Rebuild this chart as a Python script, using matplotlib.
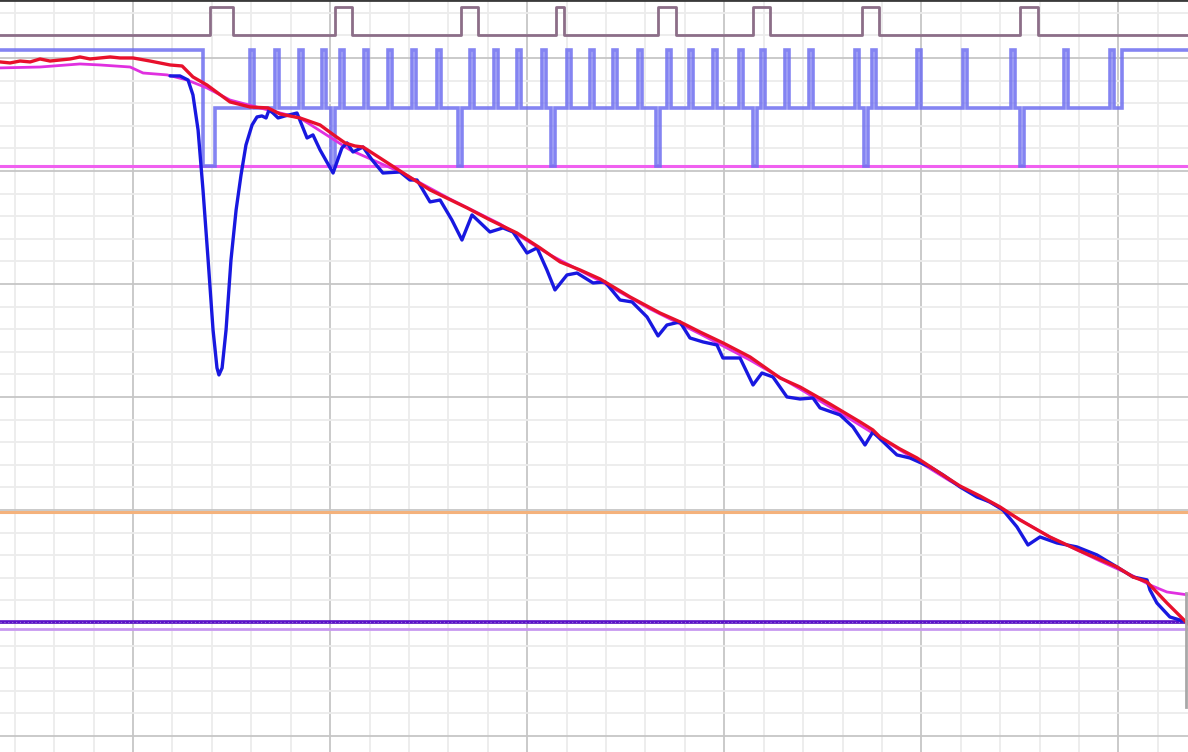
import numpy as np
import matplotlib
matplotlib.use("Agg")
import matplotlib.pyplot as plt

# time axis in ms, values in V
X_LIM = (-67.5, 535.3)
Y_LIM = (-0.142, 6.513)

# digital trace 1 (mauve): pulses as (start, end)
pulse_starts = [39.1, 102.5, 166.4, 214.6, 266.4, 314.6, 369.9, 450.0]
pulse_ends = [50.7, 111.1, 175.0, 218.7, 275.5, 323.2, 378.5, 459.2]
mauve_low, mauve_high = 6.20, 6.45

# digital trace 2 (light blue): three levels with spikes
blue_high, blue_mid, blue_low = 6.07, 5.56, 5.04
blue_fall = 35.5       # high -> low
blue_settle = 41.6     # low -> mid
blue_rise_end = 501.8  # mid -> high, stays
up_spikes = [59.4, 72.0, 84.2, 95.9, 105.0, 117.2, 129.4, 141.6, 154.2, 171.0,
             183.2, 194.8, 207.5, 220.2, 231.9, 243.5, 256.2, 270.9, 282.1, 294.3,
             307.5, 318.6, 330.8, 343.0, 366.3, 374.9, 397.8, 421.1, 445.5, 472.4,
             495.7]
down_spikes = [100.5, 164.9, 212.1, 265.3, 314.6, 370.9, 450.0]
spike_w = 2.0

# constant reference levels
magenta_level = 5.04
orange_level = 1.98
purple_level = 1.01
lilac_level = 0.95

# analog traces
red_t = [-67.5, -62.4, -57.3, -52.2, -47.2, -42.1, -37.0, -31.9, -26.9, -21.8, -16.7,
         -11.6, -6.6, 0.0, 8.6, 18.8, 24.9, 30.4,
         37.5, 49.2, 59.4, 68.5, 74.6, 84.7, 94.9, 102.5, 107.6, 112.6, 116.7, 125.3,
         135.5, 150.7, 169.5, 181.2, 194.8, 206.5, 216.7, 226.8, 237.0, 252.2, 267.4,
         277.6, 287.7, 299.4, 313.1, 328.3, 338.5, 353.6, 368.9, 375.4, 379.0, 389.1,
         397.8, 409.4, 419.6, 429.7, 439.9, 450.0, 465.2, 480.5, 499.2, 507.4, 514.5,
         524.6, 535.3]
red_v = [5.965, 5.956, 5.973, 5.965, 5.991, 5.973, 5.982, 5.991, 6.009, 5.991, 6.000,
         6.009, 6.000, 6.000, 5.973, 5.938, 5.929,
         5.832, 5.761, 5.611, 5.566, 5.558, 5.504, 5.469, 5.407, 5.310, 5.248, 5.221,
         5.212, 5.115, 5.000, 4.832, 4.673, 4.566, 4.451, 4.319, 4.195, 4.124, 4.044,
         3.885, 3.743, 3.664, 3.575, 3.478, 3.354, 3.168, 3.088, 2.938, 2.779, 2.708,
         2.646, 2.540, 2.460, 2.327, 2.212, 2.124, 2.027, 1.912, 1.761, 1.637, 1.496,
         1.407, 1.363, 1.177, 0.991]

pink_t = [-67.5, -47.2, -26.9, -16.7, -1.5, 5.1, 17.3, 27.4, 37.5, 49.2, 64.4, 84.7,
          110.1, 135.5, 160.8, 186.2, 211.6, 236.9, 262.3, 287.7, 313.0, 338.4, 363.8,
          389.1, 414.5, 439.9, 465.2, 490.6, 507.4, 516.0, 524.6, 535.3]
pink_v = [5.912, 5.920, 5.947, 5.938, 5.920, 5.867, 5.850, 5.805, 5.735, 5.628, 5.558,
          5.469, 5.186, 4.991, 4.752, 4.531, 4.257, 4.027, 3.779, 3.558, 3.327, 3.071,
          2.805, 2.531, 2.257, 2.018, 1.761, 1.549, 1.416, 1.336, 1.274, 1.248]

blue_t = [18.8, 23.8, 27.9, 30.4, 33.0, 35.5, 38.1, 40.6, 42.6, 43.6, 45.2, 47.2, 49.7,
          52.3, 54.8, 57.3, 60.4, 62.9, 65.4, 67.5, 69.0, 71.0, 73.6, 77.1, 83.2, 88.3,
          91.3, 94.9, 101.5, 106.0, 108.6, 111.6, 116.7, 121.3, 126.8, 135.5, 140.5,
          144.1, 150.7, 155.8, 161.8, 166.9, 172.0, 181.1, 187.7, 192.8, 199.9, 205.0,
          210.0, 214.1, 220.2, 225.3, 233.4, 239.5, 247.1, 253.2, 260.8, 266.4, 270.9,
          277.5, 282.6, 289.2, 296.3, 299.3, 308.0, 314.6, 319.1, 324.7, 331.8, 338.4,
          345.0, 348.6, 358.7, 365.3, 371.4, 375.4, 387.6, 394.2, 404.4, 411.0, 419.6,
          428.2, 434.8, 441.4, 448.5, 454.1, 460.2, 468.8, 478.9, 489.1, 499.2, 507.4,
          514.5, 516.0, 519.5, 526.1, 532.7, 535.3]
blue_v = [5.841, 5.841, 5.805, 5.673, 5.363, 4.832, 4.212, 3.593, 3.257, 3.195, 3.257,
          3.593, 4.212, 4.655, 4.965, 5.230, 5.407, 5.478, 5.487, 5.469, 5.540, 5.513,
          5.469, 5.487, 5.513, 5.292, 5.319, 5.186, 4.982, 5.204, 5.248, 5.168, 5.212,
          5.097, 4.982, 4.991, 4.920, 4.920, 4.726, 4.743, 4.566, 4.389, 4.611, 4.460,
          4.496, 4.460, 4.274, 4.319, 4.124, 3.947, 4.080, 4.097, 4.009, 4.018, 3.858,
          3.841, 3.708, 3.540, 3.637, 3.664, 3.522, 3.487, 3.460, 3.345, 3.345, 3.106,
          3.212, 3.177, 3.000, 2.982, 2.991, 2.903, 2.841, 2.735, 2.575, 2.690, 2.487,
          2.460, 2.381, 2.310, 2.204, 2.115, 2.071, 2.000, 1.850, 1.690, 1.761, 1.708,
          1.673, 1.602, 1.496, 1.407, 1.381, 1.292, 1.177, 1.053, 1.018, 1.010]

# cursor marker at the right edge
cursor_t = 534.2
cursor_v = (0.257, 1.265)


def step_trace(base, t0, t1, events):
    # events: list of (start, end, level) on top of a base level
    xs, ys = [t0], [base]
    for s, e, lvl in sorted(events):
        xs += [s, s, e, e]
        ys += [base, lvl, lvl, base]
    xs.append(t1)
    ys.append(base)
    return xs, ys


fig = plt.figure(figsize=(11.88, 7.52), dpi=100)
ax = fig.add_axes([0, 0, 1, 1])
ax.set_xlim(*X_LIM)
ax.set_ylim(*Y_LIM)

# grid
ax.set_xticks(np.arange(-60, 536, 20), minor=True)
ax.set_xticks(np.arange(0, 536, 100))
ax.set_yticks(np.arange(0, 6.6, 0.2), minor=True)
ax.set_yticks(np.arange(0, 6.6, 1.0))
ax.grid(which="minor", color="#ececec", lw=1.3)
ax.grid(which="major", color="#c6c6c6", lw=1.3)
ax.tick_params(which="both", length=0, labelbottom=False, labelleft=False)
for side in ["left", "right", "bottom"]:
    ax.spines[side].set_visible(False)
ax.spines["top"].set_color("#3a3a3a")
ax.spines["top"].set_linewidth(2)
ax.set_axisbelow(True)

# reference levels
ax.axhline(magenta_level, color="#f060f0", lw=2.2, zorder=2)
ax.axhline(orange_level, color="#f4b27c", lw=2.2, zorder=2)
ax.axhline(lilac_level, color="#c898f0", lw=2.0, zorder=2)
ax.axhline(purple_level, color="#5a10c8", lw=2.6, zorder=2)
ax.axhline(purple_level, color="#9a70e0", lw=0.8, ls=(0, (1, 2.5)), zorder=2)

# mauve digital
mx, my = step_trace(mauve_low, X_LIM[0], X_LIM[1],
                    [(s, e, mauve_high) for s, e in zip(pulse_starts, pulse_ends)])
ax.plot(mx, my, color="#8c6e88", lw=2.0, zorder=3)

# light blue digital
ev = [(t, t + spike_w, blue_high) for t in up_spikes]
ev += [(t, t + spike_w, blue_low) for t in down_spikes]
bx, by = step_trace(blue_mid, blue_settle, blue_rise_end, ev)
bx = [X_LIM[0], blue_fall, blue_fall, blue_settle, blue_settle] + bx[1:]
by = [blue_high, blue_high, blue_low, blue_low, blue_mid] + by[1:]
bx += [blue_rise_end, X_LIM[1]]
by += [blue_high, blue_high]
ax.plot(bx, by, color="#6f6ff0", alpha=0.85, lw=2.6, zorder=3,
        solid_joinstyle="miter")

# analog traces
ax.plot(pink_t, pink_v, color="#e030e0", lw=2.0, zorder=4,
        solid_joinstyle="round", solid_capstyle="round")
ax.plot(blue_t, blue_v, color="#1818e0", lw=2.4, zorder=5,
        solid_joinstyle="round", solid_capstyle="round")
ax.plot(red_t, red_v, color="#e8102c", lw=2.4, zorder=6,
        solid_joinstyle="round", solid_capstyle="round")

# cursor marker
ax.plot([cursor_t, cursor_t], cursor_v, color="#a8a8a8", lw=2.0, zorder=7)

fig.savefig("out.png", dpi=100)
